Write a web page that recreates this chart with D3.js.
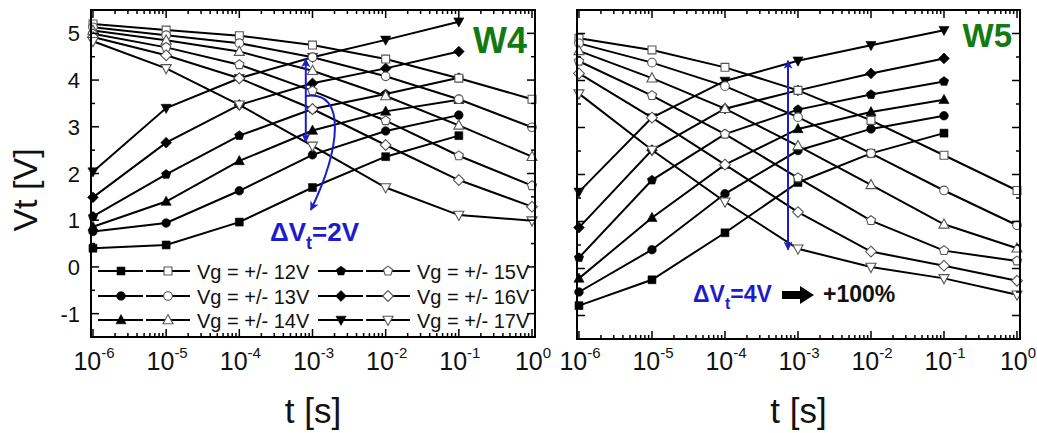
<!DOCTYPE html>
<html><head><meta charset="utf-8">
<script src="https://cdn.jsdelivr.net/npm/d3@7"></script>
<style>
html,body{margin:0;padding:0;background:#fff;}
svg{display:block;font-family:"Liberation Sans",Arial,sans-serif;}
</style>
</head><body>
<svg id="chart" width="1037" height="433"></svg>
<script>
// ---------------- data ----------------
const times = [1e-6, 1e-5, 1e-4, 1e-3, 1e-2, 1e-1, 1];
const programTimes = [1e-6, 1e-5, 1e-4, 1e-3, 1e-2, 1e-1];
const gateLabels = ["Vg = +/- 12V", "Vg = +/- 13V", "Vg = +/- 14V", "Vg = +/- 15V", "Vg = +/- 16V", "Vg = +/- 17V"];
const symbolNames = ["square", "circle", "triangle", "pentagon", "diamond", "triangleDown"];

// W4: program (filled symbols) and erase (open symbols), one row per gate voltage 12..17 V
const w4Program = [
  [0.40, 0.47, 0.96, 1.70, 2.36, 2.81],
  [0.76, 0.94, 1.63, 2.40, 2.91, 3.25],
  [0.86, 1.40, 2.27, 2.92, 3.33, 3.58],
  [1.08, 1.98, 2.81, 3.38, 3.70, 4.05],
  [1.49, 2.66, 3.47, 3.93, 4.25, 4.61],
  [2.04, 3.40, 4.04, 4.49, 4.86, 5.25]
];
const w4Erase = [
  [5.20, 5.07, 4.95, 4.75, 4.45, 4.04, 3.59],
  [5.13, 4.96, 4.79, 4.49, 4.08, 3.59, 2.99],
  [5.06, 4.85, 4.61, 4.20, 3.66, 3.03, 2.36],
  [4.99, 4.70, 4.33, 3.77, 3.13, 2.38, 1.74],
  [4.92, 4.53, 4.04, 3.38, 2.61, 1.86, 1.29],
  [4.83, 4.25, 3.47, 2.59, 1.70, 1.11, 0.99]
];
// W5
const w5Program = [
  [-0.79, -0.24, 0.76, 1.83, 2.45, 2.88],
  [-0.50, 0.40, 1.59, 2.51, 2.97, 3.25],
  [-0.21, 1.08, 2.21, 2.97, 3.33, 3.59],
  [0.23, 1.88, 2.86, 3.38, 3.70, 3.98],
  [0.87, 2.52, 3.40, 3.79, 4.15, 4.47],
  [1.63, 3.21, 3.99, 4.42, 4.75, 5.07]
];
const w5Erase = [
  [4.90, 4.65, 4.28, 3.79, 3.15, 2.41, 1.66],
  [4.79, 4.38, 3.88, 3.22, 2.45, 1.66, 0.92],
  [4.63, 4.05, 3.40, 2.61, 1.78, 0.94, 0.43],
  [4.41, 3.68, 2.86, 1.93, 1.02, 0.38, 0.16],
  [4.15, 3.21, 2.21, 1.20, 0.36, 0.06, -0.26],
  [3.72, 2.52, 1.42, 0.42, 0.03, -0.21, -0.56]
];
const yTickValues = [-1, 0, 1, 2, 3, 4, 5];
const yMinorValues = [-0.5, 0.5, 1.5, 2.5, 3.5, 4.5];
const xTickExponents = [-6, -5, -4, -3, -2, -1, 0];

// ---------------- symbols ----------------
const symbolTypes = {
  square: {draw(c, s){ const w = Math.sqrt(s) * 0.44; c.rect(-w, -w, 2*w, 2*w); }},
  circle: {draw(c, s){ const r = Math.sqrt(s) * 0.48; c.moveTo(r, 0); c.arc(0, 0, r, 0, 2*Math.PI); }},
  triangle: {draw(c, s){ const w = Math.sqrt(s);
    c.moveTo(0, -0.6*w); c.lineTo(0.56*w, 0.42*w); c.lineTo(-0.56*w, 0.42*w); c.closePath(); }},
  triangleDown: {draw(c, s){ const w = Math.sqrt(s);
    c.moveTo(0, 0.6*w); c.lineTo(0.56*w, -0.42*w); c.lineTo(-0.56*w, -0.42*w); c.closePath(); }},
  pentagon: {draw(c, s){ const r = Math.sqrt(s) * 0.54;
    for (let i = 0; i < 5; i++){ const a = -Math.PI/2 + i*2*Math.PI/5;
      const x = r*Math.cos(a), y = r*Math.sin(a); if (i === 0) c.moveTo(x, y); else c.lineTo(x, y); }
    c.closePath(); }},
  diamond: {draw(c, s){ const r = Math.sqrt(s) * 0.6;
    c.moveTo(0, -r); c.lineTo(r, 0); c.lineTo(0, r); c.lineTo(-r, 0); c.closePath(); }}
};
const sym = name => d3.symbol().type(symbolTypes[name]).size(81)();

// ---------------- drawing ----------------
const svg = d3.select("#chart");
const panels = [
  {label: "W4", prog: w4Program, erase: w4Erase, x0: 91, x1: 535, y0: 10, y1: 337, yLabels: true},
  {label: "W5", prog: w5Program, erase: w5Erase, x0: 577, x1: 1020, y0: 10, y1: 339, yLabels: false}
];
const xDomain = [Math.pow(10, -6.027), Math.pow(10, 0.041)];
const yDomain = [-1.5, 5.5];
const blue = "#1c1ccc";
const green = "#137a13";

const defs = svg.append("defs");
defs.append("marker").attr("id", "bhead").attr("viewBox", "0 0 10 10")
  .attr("refX", 9).attr("refY", 5).attr("markerWidth", 9).attr("markerHeight", 9)
  .attr("markerUnits", "userSpaceOnUse").attr("orient", "auto-start-reverse")
  .append("path").attr("d", "M0,0 L10,5 L0,10 L2.5,5 Z").attr("fill", blue);

panels.forEach(p => {
  const xs = d3.scaleLog().domain(xDomain).range([p.x0, p.x1]);
  const ys = d3.scaleLinear().domain(yDomain).range([p.y1, p.y0]);
  p.xs = xs; p.ys = ys;
  const g = svg.append("g");
  const line = d3.line().x(d => xs(d[0])).y(d => ys(d[1]));

  // lines
  p.prog.forEach(vals => {
    g.append("path").attr("d", line(programTimes.map((t, i) => [t, vals[i]])))
      .attr("fill", "none").attr("stroke", "#000").attr("stroke-width", 2);
  });
  p.erase.forEach(vals => {
    g.append("path").attr("d", line(times.map((t, i) => [t, vals[i]])))
      .attr("fill", "none").attr("stroke", "#000").attr("stroke-width", 2);
  });
  // filled markers
  p.prog.forEach((vals, si) => {
    programTimes.forEach((t, i) => {
      g.append("path").attr("d", sym(symbolNames[si]))
        .attr("transform", `translate(${xs(t)},${ys(vals[i])})`)
        .attr("fill", "#000").attr("stroke", "#000").attr("stroke-width", 0.6);
    });
  });
  // open markers
  p.erase.forEach((vals, si) => {
    times.forEach((t, i) => {
      g.append("path").attr("d", sym(symbolNames[si]))
        .attr("transform", `translate(${xs(t)},${ys(vals[i])})`)
        .attr("fill", "#fff").attr("stroke", "#555").attr("stroke-width", 1.1);
    });
  });

  // frame
  g.append("rect").attr("x", p.x0).attr("y", p.y0).attr("width", p.x1 - p.x0).attr("height", p.y1 - p.y0)
    .attr("fill", "none").attr("stroke", "#000").attr("stroke-width", 2);

  // x ticks
  const xMinor = [];
  for (let e = -6; e < 0; e++) for (let k = 2; k <= 9; k++) xMinor.push(k * Math.pow(10, e));
  const xMajor = xTickExponents.map(e => Math.pow(10, e));
  const tick = (x1, y1, x2, y2) => g.append("line").attr("x1", x1).attr("y1", y1).attr("x2", x2).attr("y2", y2)
    .attr("stroke", "#000").attr("stroke-width", 1.5);
  xMajor.forEach(v => { tick(xs(v), p.y1, xs(v), p.y1 - 8); tick(xs(v), p.y0, xs(v), p.y0 + 8); });
  xMinor.forEach(v => { tick(xs(v), p.y1, xs(v), p.y1 - 4); tick(xs(v), p.y0, xs(v), p.y0 + 4); });
  yTickValues.forEach(v => { tick(p.x0, ys(v), p.x0 + 8, ys(v)); tick(p.x1, ys(v), p.x1 - 8, ys(v)); });
  yMinorValues.forEach(v => { tick(p.x0, ys(v), p.x0 + 4, ys(v)); tick(p.x1, ys(v), p.x1 - 4, ys(v)); });

  // x tick labels
  xTickExponents.forEach(e => {
    const t = g.append("text").attr("x", xs(Math.pow(10, e)) + 1).attr("y", 370)
      .attr("text-anchor", "middle").attr("font-size", 25).attr("fill", "#111");
    t.append("tspan").text("10");
    t.append("tspan").attr("dy", -12).attr("font-size", 15).text(String(e));
  });
  // y tick labels
  if (p.yLabels) {
    yTickValues.forEach(v => {
      g.append("text").attr("x", p.x0 - 11).attr("y", ys(v) + 8).attr("text-anchor", "end")
        .attr("font-size", 22).attr("fill", "#111").text(String(v));
    });
  }
  // x title
  g.append("text").attr("x", (p.x0 + p.x1) / 2).attr("y", 423).attr("text-anchor", "middle")
    .attr("font-size", 35).attr("fill", "#111").text("t [s]");
  // panel label
  g.append("text").attr("x", p.x1 - 8).attr("y", p.label === "W4" ? 53 : 47).attr("text-anchor", "end")
    .attr("font-size", p.label === "W4" ? 36 : 33).attr("font-weight", "bold").attr("fill", green).text(p.label);
});

// y title
svg.append("text").attr("transform", "translate(37,190) rotate(-90)").attr("text-anchor", "middle")
  .attr("font-size", 34).attr("fill", "#111").text("Vt [V]");

// ---------------- legend (W4 panel) ----------------
const L = panels[0];
const legendRowsY = [271, 296, 320];
const legendCols = [{x: 98, tx: 197}, {x: 318, tx: 417}];
gateLabels.forEach((lab, si) => {
  const col = legendCols[Math.floor(si / 3)];
  const y = legendRowsY[si % 3];
  const g = svg.append("g");
  g.append("line").attr("x1", col.x).attr("x2", col.x + 45).attr("y1", y).attr("y2", y)
    .attr("stroke", "#000").attr("stroke-width", 2);
  g.append("line").attr("x1", col.x + 48).attr("x2", col.x + 92).attr("y1", y).attr("y2", y)
    .attr("stroke", "#000").attr("stroke-width", 2);
  g.append("path").attr("d", sym(symbolNames[si])).attr("transform", `translate(${col.x + 23},${y})`)
    .attr("fill", "#000").attr("stroke", "#000").attr("stroke-width", 0.6);
  g.append("path").attr("d", sym(symbolNames[si])).attr("transform", `translate(${col.x + 70},${y})`)
    .attr("fill", "#fff").attr("stroke", "#555").attr("stroke-width", 1.1);
  g.append("text").attr("x", col.tx).attr("y", y + 8).attr("font-size", 20).attr("fill", "#111").text(lab);
});

// ---------------- annotations ----------------
// W4: double arrow + curved arrow + text
{
  const xs = L.xs, ys = L.ys;
  const ax = xs(8.1e-4);
  svg.append("line").attr("x1", ax).attr("x2", ax).attr("y1", ys(4.45)).attr("y2", ys(2.68))
    .attr("stroke", blue).attr("stroke-width", 2)
    .attr("marker-start", "url(#bhead)").attr("marker-end", "url(#bhead)");
  const sx = ax, sy = ys(3.66), ex = xs(9.5e-4), ey = ys(1.22);
  svg.append("path").attr("d", `M${sx},${sy} C${sx + 42},${sy - 6} ${sx + 34},${sy + 54} ${ex},${ey}`)
    .attr("fill", "none").attr("stroke", blue).attr("stroke-width", 2).attr("marker-end", "url(#bhead)");
  const t = svg.append("text").attr("x", 270).attr("y", 241).attr("font-size", 26)
    .attr("font-weight", "bold").attr("fill", blue);
  t.append("tspan").text("\u0394V");
  t.append("tspan").attr("dy", 8).attr("font-size", 18).text("t");
  t.append("tspan").attr("dy", -8).text("=2V");
}
// W5: double arrow + text + black arrow
{
  const R = panels[1], xs = R.xs, ys = R.ys;
  const ax = xs(7.3e-4);
  svg.append("line").attr("x1", ax).attr("x2", ax).attr("y1", ys(4.42)).attr("y2", ys(0.40))
    .attr("stroke", blue).attr("stroke-width", 2)
    .attr("marker-start", "url(#bhead)").attr("marker-end", "url(#bhead)");
  const t = svg.append("text").attr("x", 693).attr("y", 302).attr("font-size", 23)
    .attr("font-weight", "bold").attr("fill", blue);
  t.append("tspan").text("\u0394V");
  t.append("tspan").attr("dy", 7).attr("font-size", 16).text("t");
  t.append("tspan").attr("dy", -7).text("=4V");
  const by = 295;
  svg.append("path").attr("d", `M782,${by - 4} L800,${by - 4} L800,${by - 9} L814,${by} L800,${by + 9} L800,${by + 4} L782,${by + 4} Z`)
    .attr("fill", "#000");
  svg.append("text").attr("x", 823).attr("y", 302).attr("font-size", 23).attr("font-weight", "bold")
    .attr("fill", "#111").text("+100%");
}
</script>
</body></html>
